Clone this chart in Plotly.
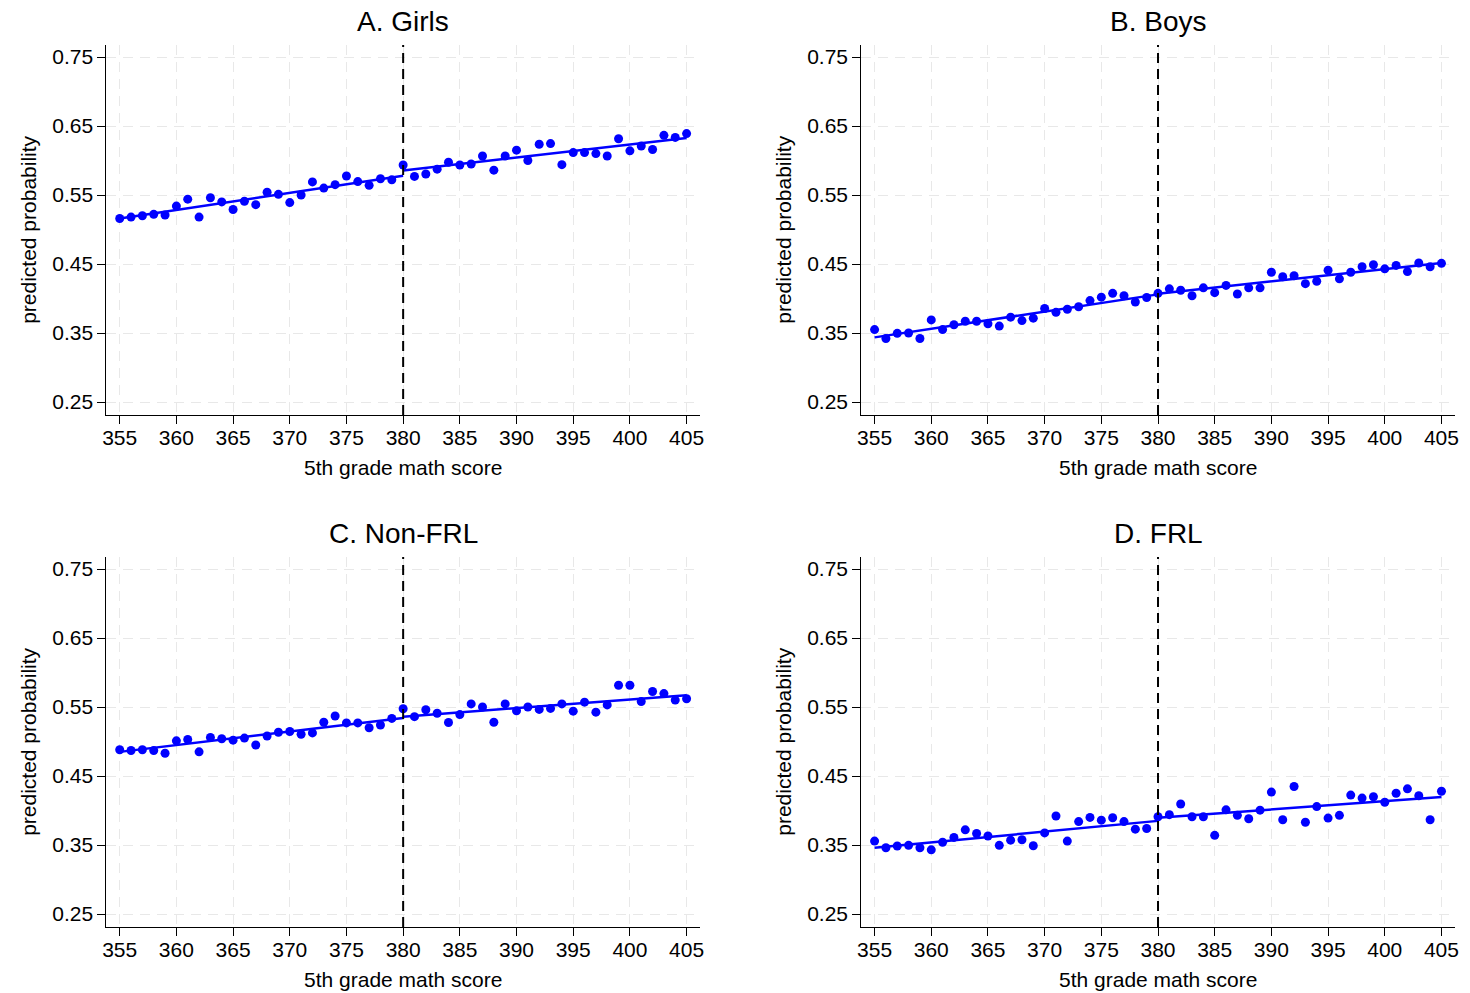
import plotly.graph_objects as go

scores = list(range(355, 406))

girls = [0.516, 0.518, 0.520, 0.522, 0.521, 0.534, 0.544, 0.518, 0.546, 0.540,
         0.529, 0.541, 0.536, 0.554, 0.551, 0.539, 0.550, 0.569, 0.560, 0.565,
         0.5775, 0.5695, 0.564, 0.5735, 0.572, 0.5935, 0.577, 0.5805, 0.5875, 0.5975,
         0.5935, 0.595, 0.6065, 0.586, 0.6065, 0.615, 0.600, 0.6235, 0.6245, 0.594,
         0.6115, 0.6115, 0.610, 0.6065, 0.6315, 0.614, 0.621, 0.616, 0.6365, 0.6335,
         0.639]

boys = [0.355, 0.342, 0.3495, 0.350, 0.342, 0.369, 0.355, 0.362, 0.367, 0.367,
        0.3635, 0.360, 0.373, 0.368, 0.3715, 0.3855, 0.380, 0.3845, 0.388, 0.397,
        0.402, 0.4075, 0.404, 0.395, 0.4015, 0.4075, 0.414, 0.412, 0.404, 0.4155,
        0.4085, 0.419, 0.4065, 0.4155, 0.4155, 0.438, 0.4315, 0.433, 0.4215, 0.425,
        0.441, 0.4285, 0.438, 0.446, 0.449, 0.443, 0.448, 0.439, 0.4515, 0.446,
        0.451]

nonfrl = [0.488, 0.487, 0.488, 0.487, 0.483, 0.501, 0.503, 0.485, 0.506, 0.504,
          0.502, 0.505, 0.495, 0.508, 0.5135, 0.5145, 0.5105, 0.5125, 0.528, 0.537,
          0.527, 0.527, 0.520, 0.524, 0.5335, 0.5475, 0.536, 0.546, 0.541, 0.5275,
          0.539, 0.5545, 0.550, 0.528, 0.5545, 0.5445, 0.550, 0.5465, 0.548, 0.5545,
          0.544, 0.557, 0.5425, 0.553, 0.5815, 0.5815, 0.558, 0.5725, 0.5695, 0.560,
          0.562]

frl = [0.3557, 0.346, 0.3486, 0.3495, 0.346, 0.343, 0.354, 0.361, 0.372, 0.3667,
       0.363, 0.3495, 0.357, 0.3576, 0.349, 0.3676, 0.392, 0.3557, 0.384, 0.390,
       0.386, 0.3895, 0.384, 0.373, 0.374, 0.391, 0.394, 0.4095, 0.391, 0.391,
       0.364, 0.401, 0.393, 0.388, 0.4005, 0.4267, 0.3867, 0.4348, 0.383, 0.4057,
       0.389, 0.393, 0.4224, 0.418, 0.420, 0.412, 0.425, 0.4314, 0.4214, 0.3867,
       0.428]

# fitted line endpoints (left of cutoff: 355->380, right: 380->405)
fit_left_x = [355, 380]
fit_right_x = [380, 405]
girls_fit_left = [0.516, 0.578]
girls_fit_right = [0.5855, 0.6325]
boys_fit_left = [0.3437, 0.406]
boys_fit_right = [0.407, 0.4515]
nonfrl_fit_left = [0.485, 0.534]
nonfrl_fit_right = [0.536, 0.567]
frl_fit_left = [0.346, 0.385]
frl_fit_right = [0.3895, 0.4195]

titles = ["A. Girls", "B. Boys", "C. Non-FRL", "D. FRL"]
cutoff = 380
x_ticks = list(range(355, 406, 5))
y_ticks = [0.25, 0.35, 0.45, 0.55, 0.65, 0.75]
y_ticktext = ["0.25", "0.35", "0.45", "0.55", "0.65", "0.75"]

panels = [
    (girls, girls_fit_left, girls_fit_right),
    (boys, boys_fit_left, boys_fit_right),
    (nonfrl, nonfrl_fit_left, nonfrl_fit_right),
    (frl, frl_fit_left, frl_fit_right),
]

W, H = 1470, 993
# plot-area pixel boxes (left, right, top, bottom)
boxes = [(103, 700, 45, 415), (862, 1459, 45, 415),
         (103, 700, 557, 927), (862, 1459, 557, 927)]

FONT = "Liberation Sans, Arial, sans-serif"
BLUE = "#0000ff"

fig = go.Figure()
layout = {}
annotations = []
shapes = []

for i, ((vals, fl, fr), (l, r, t, b), title) in enumerate(zip(panels, boxes, titles)):
    n = "" if i == 0 else str(i + 1)
    xa, ya = "x" + n, "y" + n
    fig.add_trace(go.Scatter(x=scores, y=vals, mode="markers", xaxis=xa, yaxis=ya,
                             marker=dict(color=BLUE, size=9, line=dict(width=0)),
                             showlegend=False, hoverinfo="x+y"))
    fig.add_trace(go.Scatter(x=fit_left_x, y=fl, mode="lines", xaxis=xa, yaxis=ya,
                             line=dict(color=BLUE, width=2.5), showlegend=False))
    fig.add_trace(go.Scatter(x=fit_right_x, y=fr, mode="lines", xaxis=xa, yaxis=ya,
                             line=dict(color=BLUE, width=2.5), showlegend=False))
    common = dict(showline=True, linecolor="#000000", linewidth=1.2, ticks="outside",
                  ticklen=8, tickwidth=1.2, tickcolor="#000000", showgrid=True,
                  gridcolor="#e8e8e8", gridwidth=1.2, griddash="10px,7px", zeroline=False,
                  tickfont=dict(family=FONT, size=21, color="#000000"), mirror=False)
    layout["xaxis" + n] = dict(common, domain=[l / W, r / W], anchor=ya,
                               range=[353.83, 406.2], tickvals=x_ticks,
                               ticklabelstandoff=-4)
    layout["yaxis" + n] = dict(common, domain=[1 - b / H, 1 - t / H], anchor=xa,
                               range=[0.2312, 0.7674], tickvals=y_ticks, ticktext=y_ticktext)
    cx = (l + r) / 2
    annotations.append(dict(text=title, x=cx / W, y=1 - (t - 24) / H, xref="paper", yref="paper",
                            xanchor="center", yanchor="middle", showarrow=False,
                            font=dict(family=FONT, size=28, color="#000000")))
    annotations.append(dict(text="5th grade math score", x=cx / W, y=1 - (b + 52) / H,
                            xref="paper", yref="paper", xanchor="center", yanchor="middle",
                            showarrow=False, font=dict(family=FONT, size=21, color="#000000")))
    annotations.append(dict(text="predicted probability", x=(l - 79) / W, y=1 - ((t + b) / 2) / H,
                            xref="paper", yref="paper", xanchor="center", yanchor="middle",
                            textangle=-90, showarrow=False,
                            font=dict(family=FONT, size=21, color="#000000")))
    shapes.append(dict(type="line", xref=xa, yref=ya + " domain", x0=cutoff, x1=cutoff,
                       y0=0, y1=1, line=dict(color="#000000", width=2, dash="10px,6px")))

fig.update_layout(**layout)
fig.update_layout(width=W, height=H, margin=dict(l=0, r=0, t=0, b=0),
                  paper_bgcolor="white", plot_bgcolor="white",
                  annotations=annotations, shapes=shapes,
                  font=dict(family=FONT, color="#000000"))

fig.write_html("out.html")
